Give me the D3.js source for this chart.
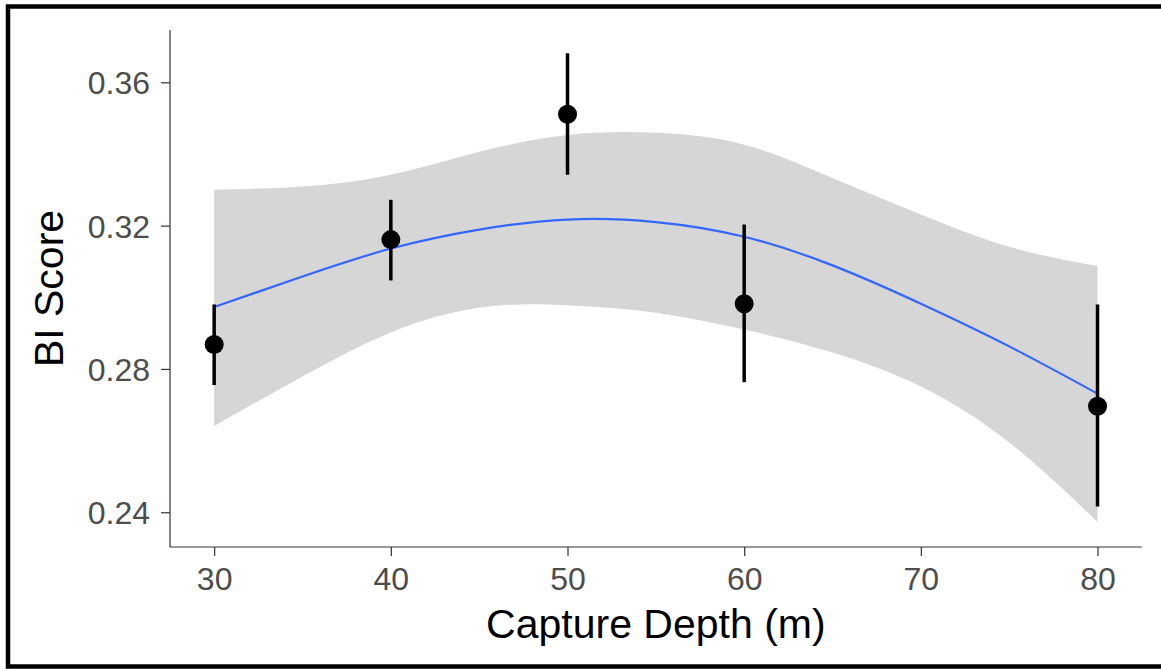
<!DOCTYPE html>
<html>
<head>
<meta charset="utf-8">
<script src="https://cdn.jsdelivr.net/npm/d3@7"></script>
<style>
  html, body { margin: 0; padding: 0; background: #fff; }
  svg { display: block; font-family: "Liberation Sans", Arial, sans-serif; }
</style>
</head>
<body>
<svg id="chart" width="1161" height="669"></svg>
<script>
// ---- Data ----
const depths = [30, 40, 50, 60, 80];
const meanScore = [0.2868, 0.3161, 0.3511, 0.2982, 0.2696];
const lowerBar = [0.2755, 0.3047, 0.3342, 0.2763, 0.2416];
const upperBar = [0.2980, 0.3272, 0.3681, 0.3203, 0.2980];

// fitted curve and confidence band, read at 5 m steps
const fitDepth = [30, 35, 40, 45, 50, 55, 60, 65, 70, 75, 80];
const fitValue = [0.2973, 0.3058, 0.3136, 0.3189, 0.3217, 0.3210, 0.3169, 0.3089, 0.2982, 0.2863, 0.2731];
const bandUpper = [0.3300, 0.3309, 0.3342, 0.3406, 0.3453, 0.3459, 0.3426, 0.3333, 0.3231, 0.3141, 0.3087];
const bandLower = [0.2641, 0.2779, 0.2902, 0.2971, 0.2978, 0.2957, 0.2910, 0.2846, 0.2751, 0.2595, 0.2373];

const xTicks = [30, 40, 50, 60, 70, 80];
const yTicks = [0.24, 0.28, 0.32, 0.36];
const xTitle = "Capture Depth (m)";
const yTitle = "BI Score";

// ---- Layout ----
const svg = d3.select("#chart");
const panel = { left: 170, right: 1141.7, top: 30, bottom: 547 };

const x = d3.scaleLinear().domain([27.5, 82.5]).range([panel.left, panel.right]);
const y = d3.scaleLinear().domain([0.2303, 0.3746]).range([panel.bottom, panel.top]);

// outer frame (right edge cropped off in the reference)
svg.append("rect")
  .attr("x", 8).attr("y", 6.5)
  .attr("width", 1300).attr("height", 660)
  .attr("fill", "none").attr("stroke", "#000").attr("stroke-width", 4.5);

// confidence band
const band = fitDepth.map((d, i) => ({ d, lo: bandLower[i], hi: bandUpper[i] }));
svg.append("path")
  .datum(band)
  .attr("fill", "#d6d6d6")
  .attr("d", d3.area().curve(d3.curveNatural)
    .x(p => x(p.d)).y0(p => y(p.lo)).y1(p => y(p.hi)));

// fitted line
const fit = fitDepth.map((d, i) => ({ d, v: fitValue[i] }));
svg.append("path")
  .datum(fit)
  .attr("fill", "none")
  .attr("stroke", "#3366FF")
  .attr("stroke-width", 2.2)
  .attr("d", d3.line().curve(d3.curveNatural).x(p => x(p.d)).y(p => y(p.v)));

// error bars and points
const pts = depths.map((d, i) => ({ d, m: meanScore[i], lo: lowerBar[i], hi: upperBar[i] }));
svg.append("g").selectAll("line").data(pts).join("line")
  .attr("x1", p => x(p.d)).attr("x2", p => x(p.d))
  .attr("y1", p => y(p.lo)).attr("y2", p => y(p.hi))
  .attr("stroke", "#000").attr("stroke-width", 3.5);
svg.append("g").selectAll("circle").data(pts).join("circle")
  .attr("cx", p => x(p.d)).attr("cy", p => y(p.m))
  .attr("r", 9.5).attr("fill", "#000");

// axes
const axisColor = "#333333";
const xAxis = svg.append("g")
  .attr("transform", `translate(0,${panel.bottom})`)
  .call(d3.axisBottom(x).tickValues(xTicks).tickSize(9).tickPadding(0).tickFormat(d3.format("d")));
const yAxis = svg.append("g")
  .attr("transform", `translate(${panel.left},0)`)
  .call(d3.axisLeft(y).tickValues(yTicks).tickSize(9).tickPadding(0).tickFormat(d3.format(".2f")));

[xAxis, yAxis].forEach(g => {
  g.select(".domain").attr("stroke", axisColor).attr("stroke-width", 1.2);
  g.selectAll(".tick line").attr("stroke", axisColor).attr("stroke-width", 1.2);
  g.selectAll(".tick text").attr("fill", "#4d4d4d").attr("font-size", 32)
    .attr("font-family", "'Liberation Sans', Arial, sans-serif");
});
// redraw domain lines to exact panel extents (no outer ticks)
xAxis.select(".domain").attr("d", `M${panel.left},0H${panel.right}`);
yAxis.select(".domain").attr("d", `M0,${panel.bottom}V${panel.top}`);

xAxis.selectAll(".tick text").attr("dy", null).attr("y", 43);
yAxis.selectAll(".tick text").attr("dy", "0.36em").attr("x", -20);

// axis titles
svg.append("text")
  .attr("x", (panel.left + panel.right) / 2).attr("y", 638)
  .attr("text-anchor", "middle")
  .attr("font-size", 41).attr("fill", "#000")
  .text(xTitle);
svg.append("text")
  .attr("transform", `translate(63,${(panel.top + panel.bottom) / 2}) rotate(-90)`)
  .attr("text-anchor", "middle")
  .attr("font-size", 41).attr("fill", "#000")
  .text(yTitle);
</script>
</body>
</html>
